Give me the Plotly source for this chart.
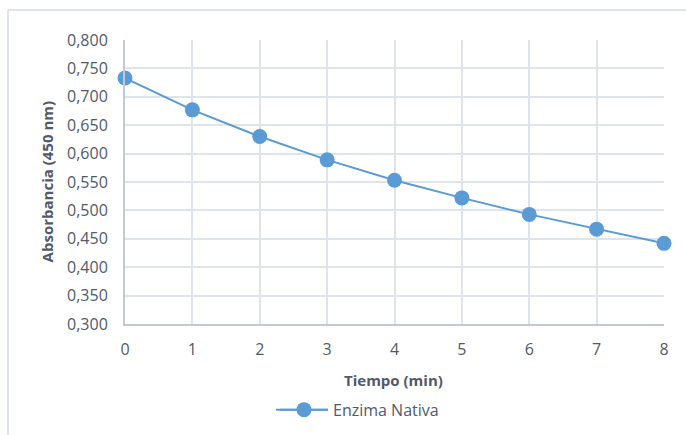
import plotly.graph_objects as go

# Absorbance readings of the native enzyme over time
tiempo_min = [0, 1, 2, 3, 4, 5, 6, 7, 8]
absorbancia = [0.733, 0.677, 0.630, 0.589, 0.553, 0.522, 0.493, 0.467, 0.442]
y_ticks = [0.300, 0.350, 0.400, 0.450, 0.500, 0.550, 0.600, 0.650, 0.700, 0.750, 0.800]
y_tick_labels = [f"{v:.3f}".replace(".", ",") for v in y_ticks]
serie_nombre = "Enzima Nativa"

BLUE = "#5b9bd5"
GRID = "#dfe3ea"
AXIS = "#c3c9d3"
TEXT = "#505a6a"
FONT = "Open Sans"

LEG_Y = -0.302  # legend row, in paper units

fig = go.Figure()
fig.add_trace(go.Scatter(
    x=tiempo_min, y=absorbancia, mode="lines+markers", name=serie_nombre,
    line=dict(color=BLUE, width=2),
    marker=dict(color=BLUE, size=15, line=dict(width=0)),
    cliponaxis=False,
))

fig.update_layout(
    width=686, height=435,
    margin=dict(l=125, r=22, t=40, b=111, autoexpand=False),
    paper_bgcolor="white", plot_bgcolor="white",
    font=dict(family=FONT, size=16, color=TEXT),
    showlegend=True,
    legend=dict(orientation="h", x=0.2783, y=LEG_Y, xanchor="left", yanchor="middle",
                itemwidth=48, bgcolor="rgba(0,0,0,0)",
                font=dict(family=FONT, size=16, color=TEXT)),
    xaxis=dict(range=[0, 8], tickvals=tiempo_min, showgrid=True, gridcolor=GRID, gridwidth=2,
               showline=True, linecolor=AXIS, linewidth=2, zeroline=False,
               ticklabelstandoff=10, tickfont=dict(size=16, color=TEXT)),
    yaxis=dict(range=[0.300, 0.800], tickvals=y_ticks, ticktext=y_tick_labels,
               showgrid=True, gridcolor=GRID, gridwidth=2,
               showline=True, linecolor=AXIS, linewidth=2, zeroline=False,
               ticklabelstandoff=12, tickfont=dict(size=16, color=TEXT)),
    annotations=[
        dict(text="<b>Tiempo (min)</b>", xref="paper", yref="paper", x=0.499, y=-0.197,
             showarrow=False, xanchor="center", yanchor="middle",
             font=dict(family=FONT, size=15, color=TEXT)),
        dict(text="<b>Absorbancia (450 nm)</b>", xref="paper", yref="paper", x=-0.144, y=0.5,
             showarrow=False, xanchor="center", yanchor="middle", textangle=-90,
             font=dict(family=FONT, size=15, color=TEXT)),
    ],
    shapes=[
        # chart frame (top and left edges)
        dict(type="line", xref="paper", yref="paper", x0=-0.2171, x1=1.2, y0=1.1056, y1=1.1056,
             line=dict(color=GRID, width=2)),
        dict(type="line", xref="paper", yref="paper", x0=-0.2171, x1=-0.2171, y0=-0.5, y1=1.1056,
             line=dict(color=GRID, width=2)),
        # longer legend key line behind the legend symbol
        dict(type="line", xref="paper", yref="paper", x0=0.2802, x1=0.3766, y0=LEG_Y, y1=LEG_Y,
             line=dict(color=BLUE, width=2), layer="below"),
    ],
)

fig.write_html("out.html")
